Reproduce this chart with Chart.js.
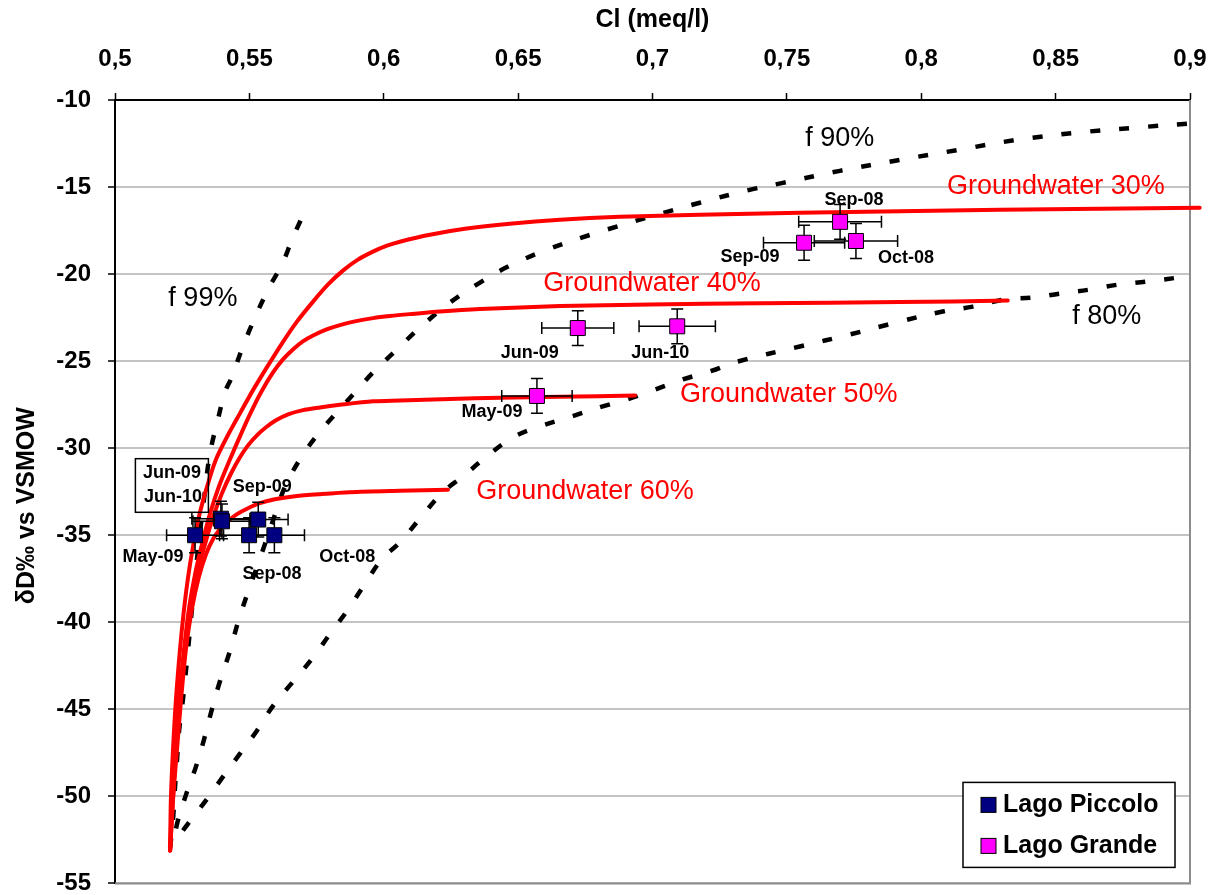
<!DOCTYPE html>
<html>
<head>
<meta charset="utf-8">
<title>Cl vs δD – Lago Piccolo / Lago Grande</title>
<script src="https://cdn.jsdelivr.net/npm/chart.js@4.4.1/dist/chart.umd.min.js"></script>
<style>
  html, body { margin: 0; padding: 0; background: #ffffff; }
  #wrap { width: 1220px; height: 895px; }
</style>
</head>
<body>
<div id="wrap"><canvas id="chart" width="1220" height="895"></canvas></div>
<script>
// ---------- axis ranges ----------
const clMin = 0.5, clMax = 0.9, clStep = 0.05;
const dMin = -55, dMax = -10, dStep = 5;
const xTitle = 'Cl (meq/l)';
const yTitle = 'δD‰ vs VSMOW';

// ---------- Lago Piccolo samples ----------
const piccoloDates = ['May-09', 'Jun-09', 'Jun-10', 'Sep-08', 'Sep-09', 'Oct-08'];
const piccoloCl    = [0.5298, 0.5394, 0.5398, 0.5499, 0.5533, 0.5593];
const piccoloD     = [-35.0, -34.05, -34.2, -35.0, -34.1, -35.0];
const piccoloClErr = [0.0106, 0.0108, 0.0108, 0.0110, 0.0111, 0.0112];
const piccoloDErr  = [1, 1, 1, 1, 1, 1];

// ---------- Lago Grande samples ----------
const grandeDates = ['May-09', 'Jun-09', 'Jun-10', 'Sep-08', 'Sep-09', 'Oct-08'];
const grandeCl    = [0.657, 0.6722, 0.7092, 0.7698, 0.7564, 0.7757];
const grandeD     = [-27.0, -23.1, -23.0, -17.0, -18.2, -18.1];
const grandeClErr = [0.0131, 0.0134, 0.0142, 0.0154, 0.0151, 0.0155];
const grandeDErr  = [1, 1, 1, 1, 1, 1];

// ---------- evaporation / mixing curves (groundwater share) ----------
const gw30Cl = [0.5205, 0.5208, 0.5216, 0.5227, 0.5242, 0.5257, 0.5272, 0.529, 0.5312, 0.5342, 0.5376, 0.542, 0.5465, 0.5513, 0.5565, 0.5621, 0.5677, 0.5737, 0.5792, 0.5848, 0.5904, 0.596, 0.6012, 0.606, 0.6172, 0.6302, 0.6469, 0.6656, 0.6879, 0.7176, 0.7548, 0.792, 0.8292, 0.8664, 0.9036];
const gw30D  = [-53.11, -50.13, -47.26, -44.4, -41.53, -39.24, -37.4, -35.68, -33.96, -32.24, -30.64, -29.26, -28.0, -26.68, -25.36, -23.99, -22.73, -21.58, -20.61, -19.8, -19.17, -18.71, -18.37, -18.14, -17.74, -17.4, -17.11, -16.88, -16.71, -16.59, -16.48, -16.39, -16.31, -16.25, -16.19];

const gw40Cl = [0.5205, 0.5212, 0.5223, 0.5238, 0.5257, 0.5275, 0.5298, 0.5324, 0.5353, 0.5387, 0.5428, 0.5465, 0.5502, 0.5543, 0.5588, 0.5625, 0.5662, 0.5699, 0.5737, 0.5785, 0.5837, 0.5897, 0.596, 0.6023, 0.6097, 0.6209, 0.6358, 0.6656, 0.699, 0.74, 0.792, 0.8322];
const gw40D  = [-53.11, -50.13, -47.26, -44.4, -41.53, -39.24, -37.23, -35.51, -33.79, -32.19, -30.64, -29.32, -28.06, -26.8, -25.65, -24.9, -24.33, -23.87, -23.53, -23.19, -22.93, -22.7, -22.53, -22.41, -22.3, -22.15, -22.01, -21.84, -21.75, -21.67, -21.61, -21.52];

const gw50Cl = [0.5205, 0.5216, 0.5227, 0.5242, 0.526, 0.5283, 0.5305, 0.5335, 0.5365, 0.5398, 0.5432, 0.5465, 0.5495, 0.5528, 0.5562, 0.5599, 0.5644, 0.5696, 0.5763, 0.5837, 0.596, 0.606, 0.6246, 0.6432, 0.6656, 0.6935];
const gw50D  = [-53.11, -50.13, -47.26, -44.4, -41.53, -39.24, -37.23, -35.51, -33.96, -32.59, -31.44, -30.52, -29.84, -29.26, -28.8, -28.4, -28.06, -27.83, -27.66, -27.51, -27.31, -27.26, -27.17, -27.11, -27.05, -26.97];

const gw60Cl = [0.5205, 0.5216, 0.5231, 0.5246, 0.5264, 0.5286, 0.5312, 0.5339, 0.5365, 0.5391, 0.542, 0.5454, 0.5495, 0.5539, 0.5595, 0.567, 0.5763, 0.5874, 0.606, 0.6239];
const gw60D  = [-53.11, -50.13, -47.26, -44.4, -41.53, -39.24, -37.4, -36.08, -35.22, -34.65, -34.19, -33.79, -33.45, -33.16, -32.93, -32.76, -32.64, -32.53, -32.45, -32.39];

// ---------- iso-f lines (residual fraction) ----------
const f99Cl = [0.5205, 0.5216, 0.5223, 0.5231, 0.5238, 0.5253, 0.5272, 0.529, 0.5309, 0.5331, 0.5353, 0.5383, 0.5409, 0.5435, 0.5476, 0.5521, 0.5569, 0.5621, 0.5662, 0.5718];
const f99D  = [-53.0, -51.3, -49.55, -47.85, -46.3, -44.4, -41.55, -38.65, -35.8, -32.95, -30.35, -28.35, -26.8, -25.9, -24.15, -22.5, -20.9, -19.45, -17.9, -16.0];

const f90Cl = [0.5227, 0.5234, 0.5268, 0.5305, 0.5335, 0.5361, 0.5391, 0.5428, 0.5458, 0.5495, 0.5532, 0.5577, 0.5606, 0.5632, 0.5688, 0.5755, 0.5826, 0.5893, 0.596, 0.6049, 0.6135, 0.6246, 0.6358, 0.6469, 0.6618, 0.6804, 0.699, 0.7176, 0.7362, 0.7485, 0.7697, 0.792, 0.8136, 0.8356, 0.8571, 0.8787, 0.9022];
const f90D  = [-51.85, -51.39, -49.73, -48.12, -46.52, -44.97, -43.36, -41.64, -39.98, -38.26, -36.66, -34.65, -33.33, -32.24, -30.64, -29.2, -27.94, -26.8, -25.65, -24.33, -23.07, -21.64, -20.49, -19.52, -18.54, -17.57, -16.71, -15.9, -15.16, -14.76, -14.07, -13.44, -12.87, -12.29, -11.89, -11.6, -11.32];

const f80Cl = [0.5253, 0.5272, 0.5335, 0.5402, 0.5465, 0.5528, 0.5588, 0.5662, 0.5733, 0.58, 0.5863, 0.593, 0.5993, 0.606, 0.6142, 0.622, 0.6295, 0.6384, 0.6481, 0.6581, 0.67, 0.6815, 0.6905, 0.7001, 0.7113, 0.7214, 0.7318, 0.7548, 0.7734, 0.792, 0.808, 0.8192, 0.8304, 0.8411, 0.8516, 0.8627, 0.8731, 0.8839, 0.8955, 0.8999];
const f80D  = [-51.96, -51.56, -50.3, -48.87, -47.55, -46.23, -44.8, -43.42, -42.1, -40.67, -39.35, -37.8, -36.37, -35.4, -33.9, -32.53, -31.61, -30.47, -29.38, -28.75, -28.17, -27.6, -27.2, -26.68, -26.05, -25.59, -25.02, -24.16, -23.47, -22.73, -22.15, -21.87, -21.47, -21.35, -21.12, -20.89, -20.61, -20.43, -20.2, -20.09];

// ---------- curve captions (placed in data units) ----------
const captionText = ['f 99%', 'f 90%', 'f 80%', 'Groundwater 30%', 'Groundwater 40%', 'Groundwater 50%', 'Groundwater 60%'];
const captionCl   = [0.5327, 0.7697, 0.869, 0.8501, 0.6998, 0.7507, 0.6749];
const captionD    = [-21.4, -12.24, -22.44, -15.0, -20.55, -26.9, -32.5];

// ---------- styling ----------
const FONT = "'Liberation Sans', Arial, Helvetica, sans-serif";
const RED = '#FF0000';
const NAVY = '#000080';
const MAGENTA = '#FF00FF';

// pixel offsets of the date labels from their marker
const piccoloLabelOffset = {
  'May-09': [-42, 22], 'Jun-09': [-49, -46], 'Jun-10': [-49, -24],
  'Sep-08': [23, 39], 'Sep-09': [4, -33], 'Oct-08': [73, 22]
};
const grandeLabelOffset = {
  'May-09': [-45, 16], 'Jun-09': [-48, 25], 'Jun-10': [-17, 27],
  'Sep-08': [14, -22], 'Sep-09': [-54, 14], 'Oct-08': [50, 17]
};

function pts(xs, ys) { return xs.map((x, i) => ({ x: x, y: ys[i] })); }
function fmtComma(v) { return String(Number(v.toFixed(2))).replace('.', ','); }

const solidCurve = (label, xs, ys) => ({
  label, data: pts(xs, ys), showLine: true, borderColor: RED, backgroundColor: RED,
  borderWidth: 4, pointRadius: 0, pointHoverRadius: 0, tension: 0.3,
  clip: false, borderCapStyle: 'round', borderJoinStyle: 'round'
});
const dashedCurve = (label, xs, ys) => ({
  label, data: pts(xs, ys), showLine: true, borderColor: '#000', backgroundColor: '#000',
  borderWidth: 4.5, borderDash: [10, 19], pointRadius: 0, pointHoverRadius: 0,
  tension: 0.4, clip: false, borderCapStyle: 'butt'
});

const errorSets = {
  0: { cl: piccoloCl, d: piccoloD, clErr: piccoloClErr, dErr: piccoloDErr },
  1: { cl: grandeCl, d: grandeD, clErr: grandeClErr, dErr: grandeDErr }
};

const overlay = {
  id: 'overlay',
  beforeDatasetsDraw(chart) {
    // right and bottom frame of the plot area
    const { ctx, chartArea: a } = chart;
    ctx.save();
    ctx.strokeStyle = '#8c8c8c';
    ctx.lineWidth = 2;
    ctx.beginPath();
    ctx.moveTo(a.right, a.top);
    ctx.lineTo(a.right, a.bottom);
    ctx.lineTo(a.left, a.bottom);
    ctx.stroke();
    ctx.restore();
  },
  beforeDatasetDraw(chart, args) {
    const set = errorSets[args.index];
    if (!set) return;
    const { ctx } = chart;
    const xs = chart.scales.x, ys = chart.scales.y;
    const cap = 6;
    ctx.save();
    ctx.strokeStyle = '#000';
    ctx.lineWidth = 1.5;
    set.cl.forEach((v, i) => {
      const cx = xs.getPixelForValue(v), cy = ys.getPixelForValue(set.d[i]);
      const x0 = xs.getPixelForValue(v - set.clErr[i]);
      const x1 = xs.getPixelForValue(v + set.clErr[i]);
      const y0 = ys.getPixelForValue(set.d[i] - set.dErr[i]);
      const y1 = ys.getPixelForValue(set.d[i] + set.dErr[i]);
      ctx.beginPath();
      ctx.moveTo(x0, cy); ctx.lineTo(x1, cy);
      ctx.moveTo(x0, cy - cap); ctx.lineTo(x0, cy + cap);
      ctx.moveTo(x1, cy - cap); ctx.lineTo(x1, cy + cap);
      ctx.moveTo(cx, y0); ctx.lineTo(cx, y1);
      ctx.moveTo(cx - cap, y0); ctx.lineTo(cx + cap, y0);
      ctx.moveTo(cx - cap, y1); ctx.lineTo(cx + cap, y1);
      ctx.stroke();
    });
    ctx.restore();
  },
  afterDatasetsDraw(chart) {
    const { ctx, chartArea: a } = chart;
    const xs = chart.scales.x, ys = chart.scales.y;
    ctx.save();
    ctx.textAlign = 'center';
    ctx.textBaseline = 'middle';

    // curve captions
    ctx.font = `27px ${FONT}`;
    captionText.forEach((t, i) => {
      ctx.fillStyle = t.startsWith('f ') ? '#000' : RED;
      ctx.fillText(t, xs.getPixelForValue(captionCl[i]), ys.getPixelForValue(captionD[i]));
    });

    // sample date labels
    ctx.font = `bold 18px ${FONT}`;
    ctx.fillStyle = '#000';
    const boxed = [];
    piccoloDates.forEach((t, i) => {
      const o = piccoloLabelOffset[t];
      const px = xs.getPixelForValue(piccoloCl[i]) + o[0];
      const py = ys.getPixelForValue(piccoloD[i]) + o[1];
      ctx.fillText(t, px, py);
      if (t.startsWith('Jun')) boxed.push([px, py]);
    });
    grandeDates.forEach((t, i) => {
      const o = grandeLabelOffset[t];
      ctx.fillText(t, xs.getPixelForValue(grandeCl[i]) + o[0], ys.getPixelForValue(grandeD[i]) + o[1]);
    });
    if (boxed.length) {
      const cx = boxed[0][0];
      const top = Math.min(...boxed.map(b => b[1])) - 14;
      const bottom = Math.max(...boxed.map(b => b[1])) + 15;
      ctx.strokeStyle = '#000';
      ctx.lineWidth = 1.5;
      ctx.strokeRect(cx - 36.5, top, 73, bottom - top);
    }

    // legend
    const lw = 212, lh = 85;
    const lx = a.right - 15 - lw, ly = a.bottom - 16 - lh;
    ctx.fillStyle = '#fff';
    ctx.fillRect(lx, ly, lw, lh);
    ctx.strokeStyle = '#000';
    ctx.lineWidth = 1.5;
    ctx.strokeRect(lx, ly, lw, lh);
    ctx.font = `bold 25px ${FONT}`;
    ctx.textAlign = 'left';
    [0, 1].forEach(k => {
      const ds = chart.data.datasets[k];
      const cy = ly + 22 + k * 41;
      ctx.fillStyle = ds.backgroundColor;
      ctx.fillRect(lx + 18, cy - 7, 15, 15);
      ctx.lineWidth = 1;
      ctx.strokeRect(lx + 18, cy - 7, 15, 15);
      ctx.fillStyle = '#000';
      ctx.fillText(ds.label, lx + 40, cy + 1);
    });
    ctx.restore();
  },
  afterDraw(chart) {
    // vertical axis title, a little below the plot's mid-height
    const { ctx, chartArea: a } = chart;
    ctx.save();
    ctx.translate(27, (a.top + a.bottom) / 2 + 14);
    ctx.rotate(-Math.PI / 2);
    ctx.textAlign = 'center';
    ctx.textBaseline = 'middle';
    ctx.fillStyle = '#000';
    ctx.font = `bold 25px ${FONT}`;
    ctx.fillText(yTitle, 0, 0);
    ctx.restore();
  }
};

new Chart(document.getElementById('chart'), {
  type: 'scatter',
  data: {
    datasets: [
      { label: 'Lago Piccolo', data: pts(piccoloCl, piccoloD), pointStyle: 'rect', pointRadius: 10.6, pointHoverRadius: 10.6,
        backgroundColor: NAVY, borderColor: '#000', borderWidth: 1 },
      { label: 'Lago Grande', data: pts(grandeCl, grandeD), pointStyle: 'rect', pointRadius: 10.6, pointHoverRadius: 10.6,
        backgroundColor: MAGENTA, borderColor: '#000', borderWidth: 1 },
      solidCurve('Groundwater 30%', gw30Cl, gw30D),
      solidCurve('Groundwater 40%', gw40Cl, gw40D),
      solidCurve('Groundwater 50%', gw50Cl, gw50D),
      solidCurve('Groundwater 60%', gw60Cl, gw60D),
      dashedCurve('f 99%', f99Cl, f99D),
      dashedCurve('f 90%', f90Cl, f90D),
      dashedCurve('f 80%', f80Cl, f80D)
    ]
  },
  options: {
    responsive: false,
    animation: false,
    devicePixelRatio: 1,
    events: [],
    layout: { padding: { top: 0, left: 0, right: 30, bottom: 10 } },
    plugins: { legend: { display: false }, tooltip: { enabled: false } },
    scales: {
      x: {
        type: 'linear', position: 'top', min: clMin, max: clMax,
        afterFit(s) { s.height = 100; s.paddingLeft = 0; s.paddingRight = 0; },
        ticks: { stepSize: clStep, padding: 19, color: '#000', maxRotation: 0,
                 font: { family: FONT, size: 24, weight: 'bold' }, callback: v => fmtComma(v) },
        grid: { drawOnChartArea: false, drawTicks: true, tickLength: 7, tickColor: '#000', tickWidth: 1.5 },
        border: { display: true, color: '#000', width: 2 },
        title: { display: true, text: xTitle, color: '#000', padding: { top: 5, bottom: 0 },
                 font: { family: FONT, size: 25, weight: 'bold' } }
      },
      y: {
        type: 'linear', min: dMin, max: dMax,
        afterFit(s) { s.width = 115; s.paddingTop = 0; s.paddingBottom = 0; },
        ticks: { stepSize: dStep, padding: 17, color: '#000',
                 font: { family: FONT, size: 24, weight: 'bold' } },
        grid: { color: '#c4c4c4', lineWidth: 2, tickLength: 7, tickColor: '#000', tickWidth: 1.5 },
        border: { display: true, color: '#000', width: 2 },
        title: { display: false }
      }
    }
  },
  plugins: [overlay]
});
</script>
</body>
</html>
